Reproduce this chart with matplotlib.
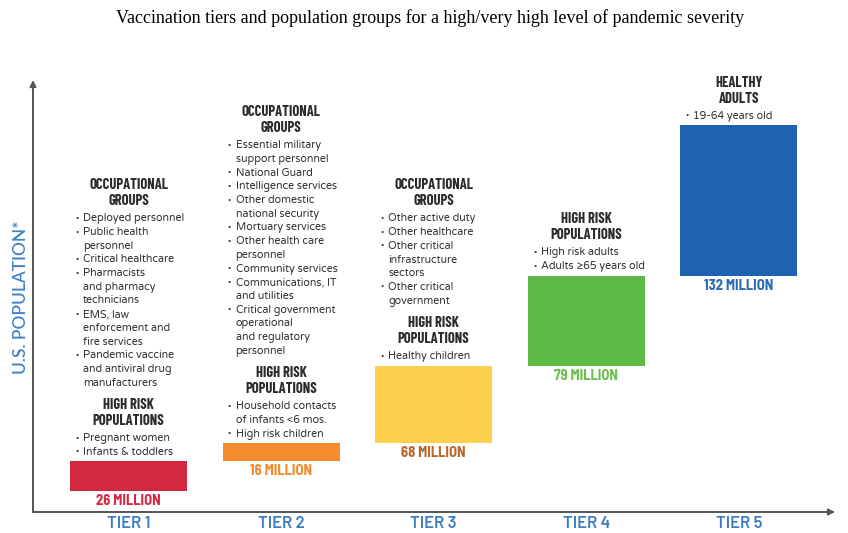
import numpy as np
import matplotlib
matplotlib.use('Agg')
import matplotlib.pyplot as plt

# data
tiers = ['TIER 1', 'TIER 2', 'TIER 3', 'TIER 4', 'TIER 5']
population_millions = [26, 16, 68, 79, 132]
value_labels = ['26 MILLION', '16 MILLION', '68 MILLION', '79 MILLION', '132 MILLION']
bar_colors = ['#d12a40', '#f58b2e', '#fdd14d', '#5dba47', '#1d63b1']
value_colors = ['#d12a40', '#f5892a', '#b8692a', '#6cc04c', '#2a6bb5']

tier1_groups = [
    ('OCCUPATIONAL\nGROUPS', [['Deployed personnel'], ['Public health', 'personnel'],
                              ['Critical healthcare'],
                              ['Pharmacists', 'and pharmacy', 'technicians'],
                              ['EMS, law', 'enforcement and', 'fire services'],
                              ['Pandemic vaccine', 'and antiviral drug', 'manufacturers']]),
    ('HIGH RISK\nPOPULATIONS', [['Pregnant women'], ['Infants & toddlers']]),
]
tier2_groups = [
    ('OCCUPATIONAL\nGROUPS', [['Essential military', 'support personnel'], ['National Guard'],
                              ['Intelligence services'],
                              ['Other domestic', 'national security'],
                              ['Mortuary services'], ['Other health care', 'personnel'],
                              ['Community services'], ['Communications, IT', 'and utilities'],
                              ['Critical government', 'operational', 'and regulatory', 'personnel']]),
    ('HIGH RISK\nPOPULATIONS', [['Household contacts', 'of infants <6 mos.'], ['High risk children']]),
]
tier3_groups = [
    ('OCCUPATIONAL\nGROUPS', [['Other active duty'], ['Other healthcare'],
                              ['Other critical', 'infrastructure', 'sectors'],
                              ['Other critical', 'government']]),
    ('HIGH RISK\nPOPULATIONS', [['Healthy children']]),
]
tier4_groups = [
    ('HIGH RISK\nPOPULATIONS', [['High risk adults'], ['Adults ≥65 years old']]),
]
tier5_groups = [
    ('HEALTHY\nADULTS', [['19-64 years old']]),
]
all_groups = [tier1_groups, tier2_groups, tier3_groups, tier4_groups, tier5_groups]

HEAD_FONT = ['Barlow Condensed', 'Roboto Condensed', 'DejaVu Sans']
VALUE_FONT = ['Barlow Semi Condensed', 'Roboto Condensed', 'DejaVu Sans']
TIER_FONT = ['Barlow', 'Roboto', 'DejaVu Sans']
BODY_FONT = ['Varela Round', 'Lato', 'DejaVu Sans']
PX = 0.72  # pixels -> points at dpi 100

fig = plt.figure(figsize=(8.48, 5.33), dpi=100)
ax = fig.add_axes([33 / 848, 21 / 533, 802 / 848, 432 / 533])
ax.set_xlim(-0.626, 4.63)
ax.set_ylim(0, 379)
ax.axis('off')

x = np.arange(len(tiers))
width = 0.767
base = 18.4
bottoms = base + np.concatenate([[0], np.cumsum(population_millions)[:-1]])
ax.bar(x, population_millions, width, bottom=bottoms, color=bar_colors, zorder=2)

# axis arrows
arrow = dict(arrowstyle='-|>', color='#555555', lw=1.4, mutation_scale=9, shrinkA=0, shrinkB=0)
ax.annotate('', xy=(0, 1), xytext=(0, 0), xycoords='axes fraction', arrowprops=arrow)
ax.annotate('', xy=(1, 0), xytext=(0, 0), xycoords='axes fraction', arrowprops=arrow)

for i in range(len(tiers)):
    top = bottoms[i] + population_millions[i]
    left = x[i] - width / 2
    # value label under bar
    ax.annotate(value_labels[i], xy=(x[i], bottoms[i]), xytext=(0, -10 * PX),
                textcoords='offset points', ha='center', va='center',
                fontsize=10.5, fontweight='bold', family=VALUE_FONT, color=value_colors[i])
    # text blocks stacked upward from bar top
    y = 9
    first = True
    for header, items in reversed(all_groups[i]):
        if not first:
            y += 22
        first = False
        lines = []
        for item in items:
            for k, line in enumerate(item):
                lines.append((line, k == 0))
        for j, (line, bullet) in enumerate(reversed(lines)):
            if j > 0:
                y += 13.7
            ax.annotate(line, xy=(left, top), xytext=(13 * PX, y * PX), textcoords='offset points',
                        ha='left', va='center', fontsize=7.7, family=BODY_FONT, color='#333333')
            if bullet:
                ax.annotate('•', xy=(left, top), xytext=(7 * PX, y * PX), textcoords='offset points',
                            ha='center', va='center', fontsize=6, family=BODY_FONT, color='#333333')
        y += 17.5
        head_lines = header.split('\n')
        for j, line in enumerate(reversed(head_lines)):
            if j > 0:
                y += 16
            ax.annotate(line, xy=(x[i], top), xytext=(0, y * PX), textcoords='offset points',
                        ha='center', va='center', fontsize=10.5, fontweight='bold',
                        family=HEAD_FONT, color='#2b2b2b')

for i, t in enumerate(tiers):
    ax.text(x[i], -11 / 432, t, transform=ax.get_xaxis_transform(), ha='center', va='center',
            fontsize=12, fontweight='semibold', family=TIER_FONT, color='#3b7dc0')

fig.text(21 / 848, 1 - 297 / 533, 'U.S. POPULATION*', rotation=90, ha='center', va='center',
         fontsize=12.4, fontweight='semibold', family=['Lato', 'DejaVu Sans'], color='#4283c4')

fig.text(430 / 848, 1 - 18 / 533,
         'Vaccination tiers and population groups for a high/very high level of pandemic severity',
         ha='center', va='center', fontsize=13, family=['Liberation Serif', 'DejaVu Serif'],
         color='black')

fig.savefig('out.png', dpi=100)
